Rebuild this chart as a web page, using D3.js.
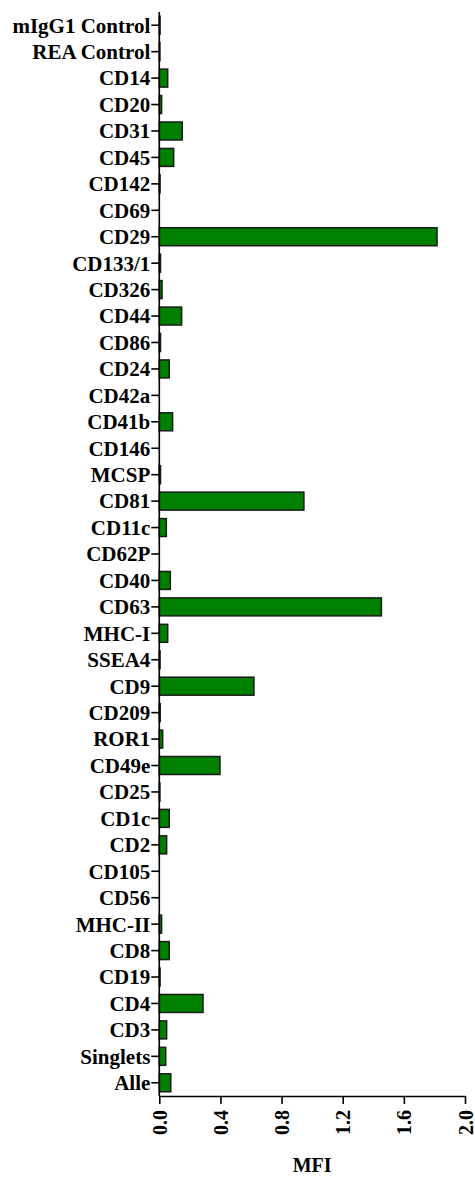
<!DOCTYPE html>
<html>
<head>
<meta charset="utf-8">
<script src="https://cdn.jsdelivr.net/npm/d3@7"></script>
<style>
  html, body { margin: 0; padding: 0; background: #fff; }
  svg { display: block; }
  text { font-family: "Liberation Serif", "Times New Roman", serif; font-weight: bold; fill: #000; }
</style>
</head>
<body>
<svg id="chart" width="475" height="1178"></svg>
<script>
// Markers, listed top to bottom
const markers = [
  "mIgG1 Control", "REA Control", "CD14", "CD20", "CD31", "CD45", "CD142", "CD69",
  "CD29", "CD133/1", "CD326", "CD44", "CD86", "CD24", "CD42a", "CD41b", "CD146",
  "MCSP", "CD81", "CD11c", "CD62P", "CD40", "CD63", "MHC-I", "SSEA4", "CD9",
  "CD209", "ROR1", "CD49e", "CD25", "CD1c", "CD2", "CD105", "CD56", "MHC-II",
  "CD8", "CD19", "CD4", "CD3", "Singlets", "Alle"
];

// Median fluorescence intensity per marker
const mfi = [
  0.005, 0.004, 0.055, 0.015, 0.150, 0.094, 0.005, 0,
  1.817, 0.008, 0.018, 0.146, 0.008, 0.065, 0, 0.087, 0,
  0.008, 0.946, 0.046, 0, 0.072, 1.453, 0.055, 0.005, 0.619,
  0.006, 0.022, 0.397, 0.004, 0.065, 0.048, 0, 0, 0.015,
  0.065, 0.005, 0.286, 0.048, 0.042, 0.075
];

const xTicks = [0.0, 0.4, 0.8, 1.2, 1.6, 2.0];
const xDomain = [0, 2.0];
const xTitle = "MFI";

const data = markers.map((m, i) => ({ marker: m, value: mfi[i] }));

const svg = d3.select("#chart");
const plotLeft = 159.3, plotRight = 465, plotTop = 12, plotBottom = 1096;

const x = d3.scaleLinear().domain(xDomain).range([plotLeft, plotRight]);
const y = d3.scaleBand().domain(markers).range([plotTop, plotBottom])
  .paddingInner(0.32).paddingOuter(0.16);

// Bars
svg.append("g")
  .selectAll("rect")
  .data(data)
  .join("rect")
  .attr("x", x(0))
  .attr("y", d => y(d.marker))
  .attr("width", d => x(d.value) - x(0))
  .attr("height", y.bandwidth())
  .attr("fill", "#008000")
  .attr("stroke", "#1a1a1a")
  .attr("stroke-width", 1.5)
  .attr("display", d => d.value > 0 ? null : "none");

// Category axis
const yAxis = svg.append("g")
  .attr("transform", `translate(${plotLeft},0)`)
  .call(d3.axisLeft(y).tickSize(8).tickSizeOuter(0).tickPadding(1));
yAxis.selectAll("text").attr("font-size", 21).attr("dy", "0.35em");
yAxis.selectAll("path, line").attr("stroke", "#000").attr("stroke-width", 1.6);
yAxis.select(".domain").attr("d", `M0,${plotTop}V${plotBottom}`);

// Value axis
const xAxis = svg.append("g")
  .attr("transform", `translate(0,${plotBottom})`)
  .call(d3.axisBottom(x).tickValues(xTicks).tickFormat(d3.format(".1f"))
    .tickSize(8).tickSizeOuter(0));
xAxis.selectAll("path, line").attr("stroke", "#000").attr("stroke-width", 1.6);
xAxis.selectAll("text")
  .attr("font-size", 20)
  .attr("transform", "rotate(-90)")
  .attr("text-anchor", "end")
  .attr("x", -14)
  .attr("y", 0)
  .attr("dy", "0.35em");

// Axis title
svg.append("text")
  .attr("x", (plotLeft + plotRight) / 2)
  .attr("y", 1172)
  .attr("text-anchor", "middle")
  .attr("font-size", 20)
  .text(xTitle);
</script>
</body>
</html>
